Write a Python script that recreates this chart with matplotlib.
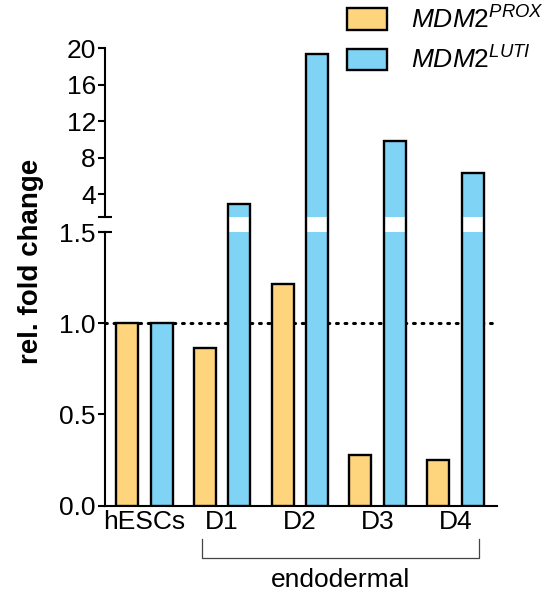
import numpy as np
import matplotlib
matplotlib.use("Agg")
import matplotlib.pyplot as plt
from matplotlib.transforms import blended_transform_factory

plt.rcParams["font.family"] = ["Liberation Sans", "DejaVu Sans"]
plt.rcParams["mathtext.fontset"] = "custom"
plt.rcParams["mathtext.it"] = "Liberation Sans:italic"
plt.rcParams["mathtext.rm"] = "Liberation Sans"

groups = ["hESCs", "D1", "D2", "D3", "D4"]
prox = [1.0, 0.865, 1.215, 0.28, 0.25]
luti = [1.0, 2.94, 19.35, 9.84, 6.37]
labels = [r"$\mathit{MDM2}^{\mathit{PROX}}$", r"$\mathit{MDM2}^{\mathit{LUTI}}$"]
low_ticks = [0.0, 0.5, 1.0, 1.5]
high_ticks = [4, 8, 12, 16, 20]

c_prox = "#FED47D"
c_luti = "#7FD3F5"
fs = 19
lw_edge = 1.7

fig = plt.figure(figsize=(5.53, 5.99), dpi=100)
ax_lo = fig.add_axes([0.1899, 0.1558, 0.7089, 0.4567])
ax_hi = fig.add_axes([0.1899, 0.6376, 0.7089, 0.2818])

x = np.arange(len(groups))
w = 0.283
off = 0.222

for ax in (ax_lo, ax_hi):
    ax.bar(x - off, prox, w, color=c_prox, edgecolor="black", linewidth=lw_edge, zorder=3)
    ax.bar(x + off, luti, w, color=c_luti, edgecolor="black", linewidth=lw_edge, zorder=3)
    ax.set_xlim(-0.505, 4.537)
    for s in ("top", "right"):
        ax.spines[s].set_visible(False)
    ax.spines["left"].set_linewidth(1.5)
    ax.tick_params(axis="y", direction="out", length=5, width=1.5, labelsize=fs, pad=1.5)

ax_lo.set_ylim(0, 1.5)
ax_lo.set_yticks(low_ticks)
ax_lo.set_yticklabels([f"{t:.1f}" for t in low_ticks])
ax_lo.spines["bottom"].set_linewidth(1.5)
ax_lo.set_xticks(x)
ax_lo.set_xticklabels(groups, fontsize=fs)
ax_lo.tick_params(axis="x", length=0, pad=3)
ax_lo.axhline(1.0, color="black", linestyle=(0, (0.6, 2.2)), linewidth=2.2,
              dash_capstyle="round", zorder=2)

ax_hi.set_ylim(1.5, 20)
ax_hi.set_yticks(high_ticks)
ax_hi.spines["bottom"].set_visible(False)
ax_hi.set_xticks([])

# break caps on the axis
ax_hi.plot([0], [0], marker="_", ms=9.5, mew=1.5, color="black",
           transform=ax_hi.transAxes, clip_on=False)
ax_lo.plot([0], [1], marker="_", ms=9.5, mew=1.5, color="black",
           transform=ax_lo.transAxes, clip_on=False)

# bar edges running through the gap
tr = blended_transform_factory(ax_lo.transData, ax_lo.transAxes)
gap_top = 1 + 15.5 / 273.6
for xi, v in zip(x, luti):
    if v > 1.5:
        for e in (xi + off - w / 2, xi + off + w / 2):
            ax_lo.plot([e, e], [1, gap_top], color="black", lw=lw_edge,
                       transform=tr, clip_on=False, solid_capstyle="butt")

# endodermal bracket
b_left, b_right = 1 - 0.26, 4 + 0.305
ax_lo.plot([b_left, b_left, b_right, b_right], [-0.122, -0.191, -0.191, -0.122],
           color="#444444", lw=0.9, transform=tr, clip_on=False)
ax_lo.text((b_left + b_right) / 2, -0.272, "endodermal", transform=tr,
           ha="center", va="center", fontsize=fs)

fig.text(0.056, 0.563, "rel. fold change", rotation=90, ha="center", va="center",
         fontsize=20, fontweight="bold")

handles = [plt.Rectangle((0, 0), 1, 1, facecolor=c, edgecolor="black", linewidth=lw_edge)
           for c in (c_prox, c_luti)]
fig.legend(handles, labels, loc="upper left", bbox_to_anchor=(0.627, 0.99),
           frameon=False, fontsize=fs, handlelength=1.52, handleheight=0.9,
           handletextpad=0.9, labelspacing=0.5, borderpad=0, borderaxespad=0)

fig.savefig("out.png", dpi=100)
